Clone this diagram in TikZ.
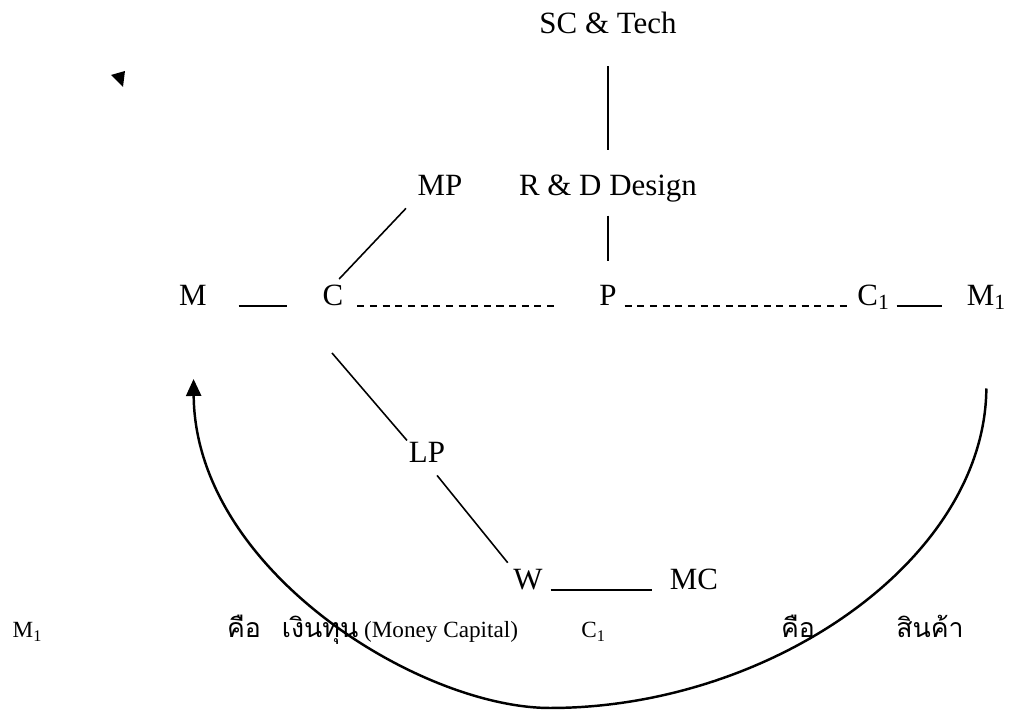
\documentclass[tikz,border=0pt]{standalone}
\usepackage{fontspec}
\setmainfont{Liberation Serif}
\newfontfamily\thaifont[Script=Thai]{Loma}
\usetikzlibrary{arrows.meta}
\begin{document}
\begin{tikzpicture}[font=\fontsize{8.8}{10.5}\selectfont,
  lbl/.style={anchor=base,inner sep=0pt,outer sep=0pt},
  small/.style={lbl,font=\fontsize{6.6}{8}\selectfont},
  thai/.style={small,font=\thaifont\fontsize{7.6}{9}\selectfont},
  link/.style={line width=0.45pt},
  gap/.style={line width=0.45pt,dash pattern=on 2pt off 1.6pt}]
\useasboundingbox (0,0) rectangle (10.35,-7.11);
\node[lbl] (sc) at (6.08,-0.34) {SC \& Tech};
\node[lbl] (mp) at (4.40,-1.96) {MP};
\node[lbl] (rd) at (6.08,-1.96) {R \& D Design};
\node[lbl] (m) at (1.93,-3.06) {M};
\node[lbl] (c) at (3.33,-3.06) {C};
\node[lbl] (p) at (6.08,-3.06) {P};
\node[lbl] (c1) at (8.74,-3.06) {C\textsubscript{1}};
\node[lbl] (m1) at (9.87,-3.06) {M\textsubscript{1}};
\node[lbl] (lp) at (4.27,-4.63) {LP};
\node[lbl] (w) at (5.28,-5.90) {W};
\node[lbl] (mc) at (6.94,-5.90) {MC};
\node[small] (bm1) at (0.28,-6.38) {M\textsubscript{1}};
\node[thai] (isa) at (2.44,-6.38) {คือ};
\node[small] (capital) at (4.00,-6.38) {{\thaifont\fontsize{7.6}{9}\selectfont เงินทุน} (Money Capital)};
\node[small] (bc1) at (5.94,-6.38) {C\textsubscript{1}};
\node[thai] (isb) at (7.98,-6.38) {คือ};
\node[thai] (goods) at (9.30,-6.38) {สินค้า};
\coordinate (clow) at (3.32,-3.53);
\draw[link,shorten <=0.32cm,shorten >=0.25cm] (sc.south) -- (rd.north);
\draw[link,shorten <=0.13cm,shorten >=0.25cm] (rd.south) -- (p.north);
\draw[link,shorten <=0.17cm,shorten >=0.09cm] (mp.south west) -- (c.north);
\draw[link,shorten <=0.32cm,shorten >=0.36cm] (m.base east) -- (c.base west);
\draw[gap,shorten <=0.14cm,shorten >=0.45cm] (c.base east) -- (p.base west);
\draw[gap,shorten <=0.08cm,shorten >=0.10cm] (p.base east) -- (c1.base west);
\draw[link,shorten <=0.06cm,shorten >=0.25cm] (c1.base east) -- (m1.base west);
\draw[link,shorten >=0.03cm] (clow) -- (lp.north west);
\draw[link,shorten <=0.16cm,shorten >=0.09cm] (lp.south) -- (w.north west);
\draw[link,shorten <=0.08cm,shorten >=0.18cm] (w.base east) -- (mc.base west);
\draw[line width=0.7pt,-{Triangle[length=0.17cm,width=0.15cm]},shorten <=0.79cm,shorten >=0.73cm]
  (m1.south) .. controls (9.85,-5.60) and (7.70,-7.08) .. (5.50,-7.08)
  .. controls (4.20,-7.08) and (1.95,-5.70) .. (m.south);
\fill (1.11,-0.75) -- (1.25,-0.71) -- (1.23,-0.87) -- cycle;
\end{tikzpicture}
\end{document}
